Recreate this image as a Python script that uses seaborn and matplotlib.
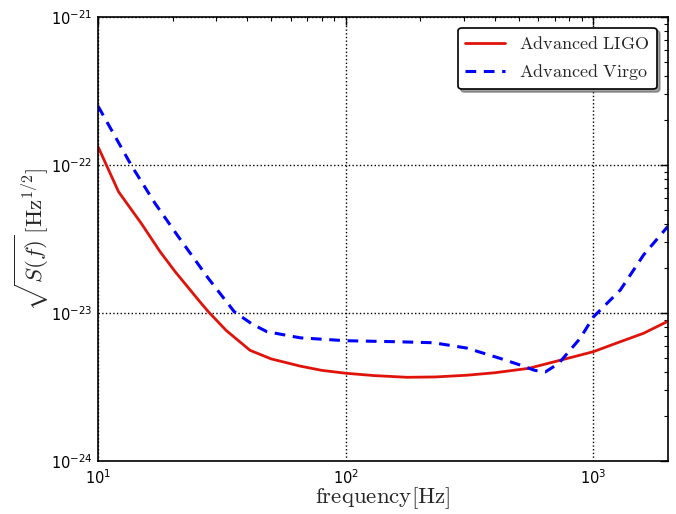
import numpy as np
import pandas as pd
import matplotlib
matplotlib.use('Agg')
import matplotlib.pyplot as plt
from matplotlib.ticker import NullFormatter
import seaborn as sns

# ── data ──────────────────────────────────────────────────────────────────────
ligo_f = [10, 12.1, 15, 17.8, 20.5, 25.8, 27.9, 33, 41.1, 50, 65.5, 80, 100,
          130, 177, 230, 308, 400, 548, 736, 1000, 1285, 1596, 2000]
ligo_asd = [1.33e-22, 6.6e-23, 4.0e-23, 2.6e-23, 1.9e-23, 1.19e-23, 1.02e-23,
            7.6e-24, 5.6e-24, 4.9e-24, 4.38e-24, 4.1e-24, 3.92e-24,
            3.78e-24, 3.68e-24, 3.7e-24, 3.8e-24, 3.95e-24, 4.23e-24,
            4.8e-24, 5.48e-24, 6.4e-24, 7.3e-24, 8.8e-24]

virgo_f = [10, 13.7, 17, 21.1, 28, 35.5, 42, 48.1, 65.5, 100, 160, 226, 308,
           420, 507, 580, 640, 725, 885, 1000, 1285, 1596, 2000]
virgo_asd = [2.5e-22, 9.8e-23, 5.5e-23, 3.28e-23, 1.7e-23, 1.02e-23, 8.4e-24,
             7.48e-24, 6.8e-24, 6.5e-24, 6.4e-24, 6.3e-24, 5.8e-24,
             4.94e-24, 4.45e-24, 4.1e-24, 4.0e-24, 4.57e-24, 6.75e-24,
             9.4e-24, 1.43e-23, 2.47e-23, 3.85e-23]

x_ticks = [10, 100, 1000]
y_ticks = [1e-24, 1e-23, 1e-22, 1e-21]

ligo = pd.DataFrame({'f': ligo_f, 'asd': ligo_asd})
virgo = pd.DataFrame({'f': virgo_f, 'asd': virgo_asd})

# ── plot ──────────────────────────────────────────────────────────────────────
sns.set_style('white')
fig = plt.figure(figsize=(6.76, 5.14), dpi=100)
ax = fig.add_axes([0.145, 0.103, 0.843, 0.864])

sns.lineplot(data=ligo, x='f', y='asd', ax=ax, color='#e0130b', lw=2,
             label=r'$\mathrm{Advanced\ LIGO}$')
sns.lineplot(data=virgo, x='f', y='asd', ax=ax, color='blue', lw=2.2,
             label=r'$\mathrm{Advanced\ Virgo}$')
ax.lines[1].set_linestyle((0, (3.5, 2.5)))

ax.set_xscale('log')
ax.set_yscale('log')
ax.set_xticks(x_ticks)
ax.set_yticks(y_ticks)
ax.set_xlim(10, 2000)
ax.set_ylim(1e-24, 1e-21)
ax.xaxis.set_minor_formatter(NullFormatter())
ax.yaxis.set_minor_formatter(NullFormatter())

ax.grid(True, which='major', color='black', linestyle=':', lw=1)
ax.tick_params(which='both', direction='in', top=True, right=True,
               labelsize=10.5, colors='black')
ax.tick_params(which='major', length=6, width=1)
ax.tick_params(which='minor', length=3, width=0.8)
ax.tick_params(axis='x', pad=5)
ax.tick_params(axis='y', pad=4)
for sp in ax.spines.values():
    sp.set_color('black')
    sp.set_linewidth(1.2)

ax.set_xlabel(r'$\mathrm{frequency}[\mathrm{Hz}]$', fontsize=16.5,
              math_fontfamily='cm', labelpad=-1)
ax.set_ylabel(r'$\sqrt{S(f)}\,[\mathrm{Hz}^{1/2}]$', fontsize=16.5,
              math_fontfamily='cm', labelpad=0)

# legend with shadow like the old matplotlib look
leg = ax.legend(loc='upper right', shadow=True, fancybox=True, fontsize=13,
                handlelength=2.2, borderaxespad=0.6, framealpha=1)
leg.get_frame().set_edgecolor('black')
leg.get_frame().set_linewidth(1.2)
for t in leg.get_texts():
    t.set_math_fontfamily('cm')

fig.savefig('out.png', dpi=100)
plt.close()
